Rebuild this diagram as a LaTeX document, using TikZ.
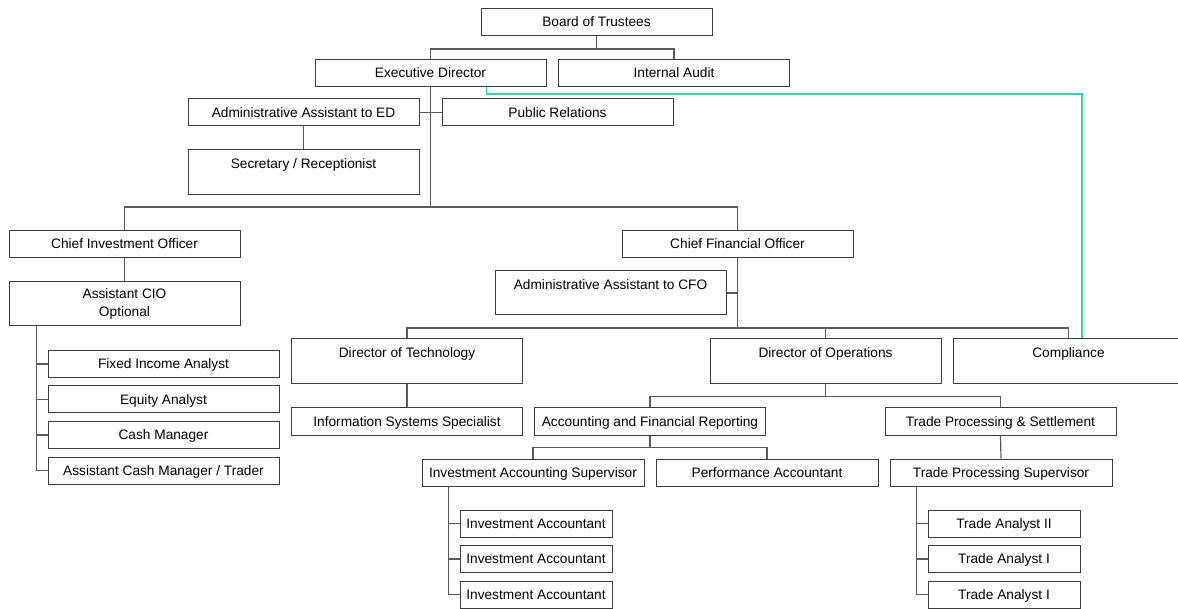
\documentclass[tikz,border=0pt]{standalone}
\usepackage{fontspec}
\setmainfont{Liberation Sans}
\definecolor{boxline}{HTML}{3C3C3C}
\definecolor{linkgray}{HTML}{5A5A5A}
\definecolor{dotline}{HTML}{2FD8AE}
\tikzset{
	unit/.style={draw=boxline, fill=white, line width=1pt, inner sep=0pt, minimum width=231pt, minimum height=27pt, font=\fontsize{13.7}{18}\selectfont},
	post/.style={unit, text height=9.8pt, text depth=0pt},
	seat/.style={post, minimum height=45pt, text depth=17.5pt},
	lead/.style={post, minimum width=222pt},
	clerk/.style={post, minimum width=152pt},
	wire/.style={draw=linkgray, line width=1.2pt}
}
\begin{document}
\begin{tikzpicture}[x=1pt, y=-1pt]
	\useasboundingbox (0,0) rectangle (1178,609);
	
	%board and director
	\node[post] (board) at (596.5,22) {Board of Trustees};
	\node[post] (exec) at (430.5,73) {Executive Director};
	\node[post] (audit) at (674,73) {Internal Audit};
	\draw[wire] (board.south) -- ++(0,13) -| (exec.north);
	\draw[wire] (board.south) -- ++(0,13) -| (audit.north);
	
	%office of the director
	\node[post] (aide) at (303.5,112.5) {Administrative Assistant to ED};
	\node[post] (pr) at (557.5,112.5) {Public Relations};
	\node[seat] (desk) at (303.5,172.5) {Secretary / Receptionist};
	\draw[wire] (aide.east) -- (pr.west);
	\draw[wire] (aide.south) -- (desk.north);
	
	%officers
	\node[post] (cio) at (124.5,244) {Chief Investment Officer};
	\node[post] (cfo) at (737.5,244) {Chief Financial Officer};
	\draw[wire] (exec.south) -- ++(0,120) -| (cio.north);
	\draw[wire] (exec.south) -- ++(0,120) -| (cfo.north);
	
	%investment side
	\node[unit, minimum height=44pt, align=center] (acio) at (124.5,304) {Assistant CIO\\Optional};
	\draw[wire] (cio.south) -- (acio.north);
	\foreach \name/\job [count=\i] in {fixed/Fixed Income Analyst, equity/Equity Analyst, cash/Cash Manager, trader/{Assistant Cash Manager / Trader}}{
		\node[post] (\name) at (163.5, 328.5+35.5*\i) {\job};
		\draw[wire] ([xshift=28pt]acio.south west) |- (\name.west);
	}
	
	%finance side
	\node[seat, text depth=16.5pt, minimum height=44pt] (acfo) at (610.5,293) {Administrative Assistant to CFO};
	\node[seat] (tech) at (407,361.5) {Director of Technology};
	\node[seat] (ops) at (825.5,361.5) {Director of Operations};
	\node[seat] (comp) at (1068.5,361.5) {Compliance};
	\draw[wire] (cfo.south) -- ++(0,70) -| (tech.north);
	\draw[wire] (cfo.south) -- ++(0,70) -| (ops.north);
	\draw[wire] (cfo.south) -- ++(0,70) -| (comp.north);
	\draw[wire] (acfo.east) -- (acfo.east -| cfo.south);
	
	\node[post] (iss) at (407,421.5) {Information Systems Specialist};
	\draw[wire] (tech.south) -- (iss.north);
	
	%operations
	\node[post] (afr) at (650,421.5) {Accounting and Financial Reporting};
	\node[post] (tps) at (1000.5,421.5) {Trade Processing \& Settlement};
	\draw[wire] (ops.south) -- ++(0,12) -| (afr.north);
	\draw[wire] (ops.south) -- ++(0,12) -| (tps.north);
	
	\node[lead] (ias) at (533,472.5) {Investment Accounting Supervisor};
	\node[lead] (perf) at (767,472.5) {Performance Accountant};
	\node[lead] (tpsup) at (1001,472.5) {Trade Processing Supervisor};
	\draw[wire] (afr.south) -- ++(0,12) -| (ias.north);
	\draw[wire] (afr.south) -- ++(0,12) -| (perf.north);
	\draw[wire] (tps.south) -- (tpsup.north);
	
	\foreach \i in {1,2,3}{
		\node[clerk] (acct\i) at (536, 488+35.5*\i) {Investment Accountant};
		\draw[wire] ([xshift=27pt]ias.south west) |- (acct\i.west);
	}
	\foreach \name/\job [count=\i] in {tra/Trade Analyst II, trb/Trade Analyst I, trc/Trade Analyst I}{
		\node[clerk] (\name) at (1004, 488+35.5*\i) {\job};
		\draw[wire] ([xshift=27pt]tpsup.south west) |- (\name.west);
	}
	
	%dotted-line report to compliance
	\draw[dotline, line width=1.2pt] ([xshift=56pt]exec.south) -- ++(0,7) -| ([xshift=13.5pt]comp.north);
\end{tikzpicture}
\end{document}
